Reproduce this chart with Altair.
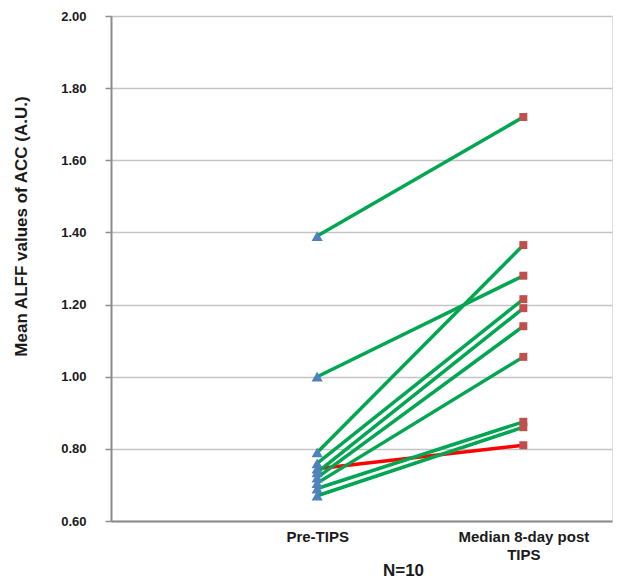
import altair as alt
import pandas as pd

pre_values = [1.39, 1.00, 0.79, 0.76, 0.745, 0.735, 0.72, 0.705, 0.69, 0.67]
post_values = [1.72, 1.28, 1.365, 1.215, 0.81, 1.19, 1.14, 1.055, 0.875, 0.86]
groups = ["up", "up", "up", "up", "red", "up", "up", "up", "up", "up"]
time_labels = ["Pre-TIPS", "Median 8-day post TIPS"]

rows = []
for i, (a, b, g) in enumerate(zip(pre_values, post_values, groups)):
    rows.append({"subject": i, "t": 1, "value": a, "grp": g, "phase": "pre"})
    rows.append({"subject": i, "t": 2, "value": b, "grp": g, "phase": "post"})
df = pd.DataFrame(rows)

FONT = "Liberation Sans"

x_enc = alt.X(
    "t:Q",
    scale=alt.Scale(domain=[0, 2.43], nice=False, zero=False),
    axis=alt.Axis(
        values=[1, 2],
        labelExpr="datum.value == 1 ? 'Pre-TIPS' : ['Median 8-day post', 'TIPS']",
        grid=False,
        ticks=False,
        domainColor="#8c8c8c",
        domainWidth=2,
        labelFont=FONT,
        labelFontWeight="bold",
        labelFontSize=15,
        labelColor="#1a1a1a",
        labelPadding=8,
        labelLineHeight=18,
        labelOverlap=False,
        labelFlush=False,
        labelBound=False,
        title="N=10",
        titleFont=FONT,
        titleFontSize=17,
        titleFontWeight="bold",
        titleColor="#1a1a1a",
        titleX=292,
        titleY=49,
        titleBaseline="middle",
        titleAlign="center",
    ),
)

y_enc = alt.Y(
    "value:Q",
    scale=alt.Scale(domain=[0.6, 2.0], nice=False, zero=False),
    axis=alt.Axis(
        values=[0.6, 0.8, 1.0, 1.2, 1.4, 1.6, 1.8, 2.0],
        format=".2f",
        grid=True,
        gridColor="#c4c4c4",
        gridWidth=1.5,
        domainColor="#8c8c8c",
        domainWidth=2,
        tickColor="#8c8c8c",
        tickWidth=1.5,
        tickSize=6,
        labelFont=FONT,
        labelFontWeight="bold",
        labelFontSize=13,
        labelColor="#1a1a1a",
        labelPadding=19,
        title="Mean ALFF values of ACC (A.U.)",
        titleFont=FONT,
        titleFontSize=17,
        titleFontWeight="bold",
        titleColor="#1a1a1a",
        titleX=-90,
        titleY=210,
        titleAngle=270,
        titleBaseline="middle",
        titleAlign="center",
    ),
)

lines = alt.Chart(df).mark_line(strokeWidth=3.5).encode(
    x=x_enc,
    y=y_enc,
    detail="subject:N",
    color=alt.Color(
        "grp:N",
        scale=alt.Scale(domain=["up", "red"], range=["#00a651", "#ff0000"]),
        legend=None,
    ),
    order="t:Q",
)

pre_pts = alt.Chart(df).transform_filter("datum.phase == 'pre'").mark_point(
    shape="triangle-up", filled=True, size=125, color="#4f81bd", opacity=1
).encode(x="t:Q", y="value:Q")

post_pts = alt.Chart(df).transform_filter("datum.phase == 'post'").mark_square(
    size=64, color="#c0504d", opacity=1
).encode(x="t:Q", y="value:Q")

chart = (
    alt.layer(lines, pre_pts, post_pts)
    .properties(
        width=501,
        height=505,
        autosize=alt.AutoSizeParams(type="none"),
        padding={"left": 103, "top": 8, "right": 4, "bottom": 57},
    )
    .configure_view(stroke=None)
    .configure(background="white")
)

chart.save("out.html", embed_options={"renderer": "svg", "actions": False})
